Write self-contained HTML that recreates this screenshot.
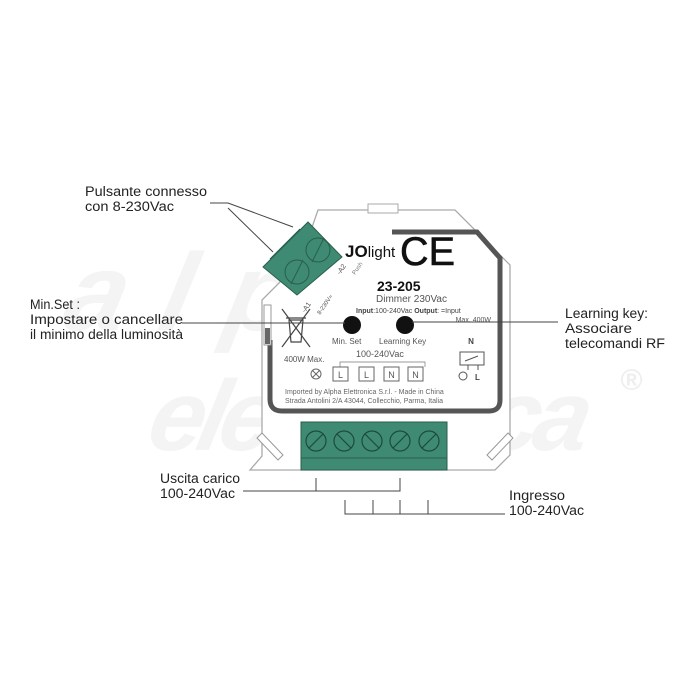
<!DOCTYPE html>
<html><head><meta charset="utf-8"><style>
html,body{margin:0;padding:0;background:#fff;}
svg{display:block;}
text{font-family:"Liberation Sans",sans-serif;}
</style></head><body>
<svg width="700" height="700" viewBox="0 0 700 700" xmlns="http://www.w3.org/2000/svg">
<rect width="700" height="700" fill="#fff"/>
<g fill="#f4f4f4" font-style="italic" font-weight="bold">
<text x="130" y="330" font-size="110" transform="skewX(-12)" textLength="330">alph</text>
<text x="240" y="450" font-size="100" transform="skewX(-12)" textLength="440">elettronica</text>
<text x="620" y="390" font-size="30" fill="#eee">®</text>
</g>
<path d="M318,210 L455,210 L510,265 L510,455 L495,470 L250,470 L262,456 L262,300 L300,262 Z" fill="#fff" stroke="#aaa" stroke-width="1.3"/>
<rect x="368" y="204" width="30" height="9" fill="#fff" stroke="#aaa"/>
<path d="M487,455 L508,433 L513,438 L492,460 Z" fill="#fff" stroke="#999"/>
<path d="M262,433 L283,455 L278,460 L257,438 Z" fill="#fff" stroke="#999"/>
<path d="M392,232 L477,232 L500,258 L500,400 Q500,411 489,411 L282,411 Q270,411 270,399 L270,340" fill="none" stroke="#555" stroke-width="5"/>
<rect x="264" y="305" width="7" height="40" fill="#fff" stroke="#999"/>
<rect x="265" y="328" width="5" height="16" fill="#666"/>
<polygon points="308,222 342,257 297,295 263,267" fill="#3e8a72" stroke="#2a5e4d"/>
<line x1="300" y1="229" x2="270" y2="259" stroke="#2a5e4d"/>
<circle cx="318" cy="250" r="12" fill="none" stroke="#2a5e4d"/>
<circle cx="297" cy="272" r="12" fill="none" stroke="#2a5e4d"/>
<line x1="312" y1="262" x2="324" y2="238" stroke="#2a5e4d"/>
<line x1="291" y1="284" x2="303" y2="260" stroke="#2a5e4d"/>
<text x="340" y="275" font-size="7" fill="#555" transform="rotate(-55 340 275)">-A2</text>
<text x="305" y="313" font-size="7" fill="#555" transform="rotate(-55 305 313)">-A1</text>
<text x="320" y="315" font-size="6" fill="#555" transform="rotate(-55 320 315)">8-230V≈</text>
<text x="355" y="275" font-size="6" fill="#777" transform="rotate(-55 355 275)">Push</text>
<text x="345" y="257" font-size="17" font-weight="bold" fill="#111">JO<tspan font-weight="normal" font-size="15">light</tspan></text>
<text x="400" y="265" font-size="40" fill="#111" stroke="#111" stroke-width="0.6" textLength="55" lengthAdjust="spacingAndGlyphs">CE</text>
<text x="377" y="291" font-size="14" font-weight="bold" fill="#111">23-205</text>
<text x="376" y="302" font-size="10" fill="#555">Dimmer 230Vac</text>
<text x="356" y="313" font-size="7" fill="#444"><tspan font-weight="bold">Input</tspan>:100-240Vac <tspan font-weight="bold">Output</tspan>: =Input</text>
<text x="491" y="322" font-size="7" fill="#555" text-anchor="end">Max. 400W</text>
<circle cx="352" cy="325" r="9" fill="#111"/>
<circle cx="405" cy="325" r="9" fill="#111"/>
<text x="332" y="344" font-size="8" fill="#555">Min. Set</text>
<text x="379" y="344" font-size="8" fill="#555">Learning Key</text>
<g stroke="#444" fill="none" stroke-width="1.2">
<path d="M289,320 L303,320 L301,342 L291,342 Z"/>
<line x1="286" y1="318" x2="306" y2="318"/>
<line x1="282" y1="309" x2="310" y2="347"/>
<line x1="310" y1="309" x2="282" y2="347"/>
</g>
<text x="284" y="362" font-size="8" fill="#555">400W Max.</text>
<text x="356" y="357" font-size="9" fill="#555">100-240Vac</text>
<path d="M340,367 L340,362 L425,362 L425,367" fill="none" stroke="#777" stroke-width="0.7"/>
<g stroke="#666" fill="none">
<circle cx="316" cy="374" r="5"/><line x1="312.5" y1="370.5" x2="319.5" y2="377.5"/><line x1="319.5" y1="370.5" x2="312.5" y2="377.5"/>
<rect x="333" y="367" width="15" height="14"/><rect x="359" y="367" width="15" height="14"/>
<rect x="384" y="367" width="15" height="14"/><rect x="408" y="367" width="15" height="14"/>
</g>
<g font-size="9" fill="#555" text-anchor="middle">
<text x="340.5" y="378">L</text><text x="366.5" y="378">L</text><text x="391.5" y="378">N</text><text x="415.5" y="378">N</text>
</g>
<text x="471" y="344" font-size="8" font-weight="bold" fill="#444" text-anchor="middle">N</text>
<rect x="460" y="352" width="24" height="13" fill="none" stroke="#555"/>
<path d="M465,361 L478,356 M468,365 L468,370 M478,365 L478,370" stroke="#555"/>
<circle cx="463" cy="376" r="4" fill="none" stroke="#555"/>
<text x="475" y="380" font-size="8" font-weight="bold" fill="#444">L</text>
<text x="285" y="394" font-size="7" fill="#666">Imported by Alpha Elettronica S.r.l. - Made in China</text>
<text x="285" y="403" font-size="7" fill="#666">Strada Antolini 2/A 43044, Collecchio, Parma, Italia</text>
<rect x="301" y="422" width="146" height="48" fill="#3e8a72" stroke="#2a5e4d"/>
<line x1="301" y1="458" x2="447" y2="458" stroke="#2a5e4d"/>
<g stroke="#1e4a3c" fill="none" stroke-width="1.2">
<circle cx="316" cy="441" r="10"/><line x1="309" y1="448" x2="323" y2="434"/>
<circle cx="344" cy="441" r="10"/><line x1="337" y1="434" x2="351" y2="448"/>
<circle cx="372" cy="441" r="10"/><line x1="365" y1="434" x2="379" y2="448"/>
<circle cx="400" cy="441" r="10"/><line x1="393" y1="448" x2="407" y2="434"/>
<circle cx="429" cy="441" r="10"/><line x1="422" y1="448" x2="436" y2="434"/>
</g>
<g stroke="#444" stroke-width="1" fill="none">
<path d="M210,203 L228,203 L293,227"/>
<path d="M228,208 L273,252"/>
<line x1="182" y1="323" x2="345" y2="323"/>
<line x1="412" y1="322" x2="558" y2="322"/>
<path d="M243,491 L400,491 L400,478 M316,478 L316,491"/>
<path d="M345,500 L345,514 L505,514 M373,500 L373,514 M400,500 L400,514 M428,500 L428,514"/>
</g>
<g font-size="13.5" fill="#222">
<text x="85" y="196" textLength="122" lengthAdjust="spacingAndGlyphs">Pulsante connesso</text>
<text x="85" y="211" textLength="89" lengthAdjust="spacingAndGlyphs">con 8-230Vac</text>
<text x="30" y="309" textLength="50" lengthAdjust="spacingAndGlyphs">Min.Set :</text>
<text x="30" y="324" textLength="153" lengthAdjust="spacingAndGlyphs">Impostare o cancellare</text>
<text x="30" y="339" textLength="153" lengthAdjust="spacingAndGlyphs">il minimo della luminosità</text>
<text x="565" y="318" textLength="83" lengthAdjust="spacingAndGlyphs">Learning key:</text>
<text x="565" y="333" textLength="67" lengthAdjust="spacingAndGlyphs">Associare</text>
<text x="565" y="348" textLength="100" lengthAdjust="spacingAndGlyphs">telecomandi RF</text>
<text x="160" y="483" textLength="80" lengthAdjust="spacingAndGlyphs">Uscita carico</text>
<text x="160" y="498" textLength="75" lengthAdjust="spacingAndGlyphs">100-240Vac</text>
<text x="509" y="500" textLength="56" lengthAdjust="spacingAndGlyphs">Ingresso</text>
<text x="509" y="515" textLength="75" lengthAdjust="spacingAndGlyphs">100-240Vac</text>
</g>
</svg>
</body></html>
